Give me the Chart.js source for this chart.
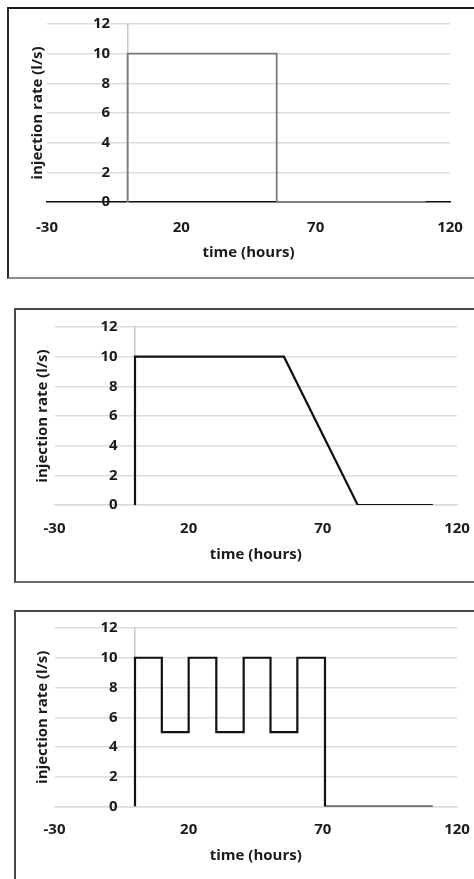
<!DOCTYPE html>
<html>
<head>
<meta charset="utf-8">
<script src="https://cdn.jsdelivr.net/npm/chart.js@4"></script>
<style>
  html, body { margin: 0; padding: 0; background: #fff; overflow: hidden; }
  body { width: 474px; height: 879px; position: relative; }
  .box { position: absolute; box-sizing: border-box; }
  canvas { position: absolute; left: 0; }
</style>
</head>
<body>
<div class="box" style="left:7px; top:7px; width:480px; height:272px; border-top:2px solid #1a1a1a; border-left:2px solid #2a2a2a; border-bottom:2px solid #8a8a8a;"></div>
<div class="box" style="left:14px; top:308px; width:480px; height:275px; border-top:2px solid #4a4a4a; border-left:2px solid #4a4a4a; border-bottom:2px solid #6a6a6a;"></div>
<div class="box" style="left:14px; top:610px; width:480px; height:300px; border-top:2px solid #4a4a4a; border-left:2px solid #4a4a4a;"></div>

<canvas id="chart1" width="474" height="290" style="top:0px"></canvas>
<canvas id="chart2" width="474" height="300" style="top:295px"></canvas>
<canvas id="chart3" width="474" height="279" style="top:600px"></canvas>

<script>
// constant injection, then stop
const time1 = [0, 0, 55.5, 55.5, 111];
const rate1 = [0, 10, 10, 0, 0];

// constant injection, then linear ramp down
const time2 = [0, 0, 55.5, 83, 111];
const rate2 = [0, 10, 10, 0, 0];

// cyclic injection 10 / 5 l/s, then stop
const time3 = [0, 0, 10, 10, 20, 20, 30.3, 30.3, 40.5, 40.5, 50.5, 50.5, 60.5, 60.5, 70.8, 70.8, 111];
const rate3 = [0, 10, 10, 5, 5, 10, 10, 5, 5, 10, 10, 5, 5, 10, 10, 0, 0];

const xTicks = [-30, 20, 70, 120];
const yTicks = [0, 2, 4, 6, 8, 10, 12];

const xTitle = 'time (hours)';
const yTitle = 'injection rate (l/s)';

const font = { family: 'Open Sans', weight: 'bold', size: 15 };
const gridColor = '#dcdcdc';

function makePanel(id, times, rates, o) {
  const ctx = document.getElementById(id).getContext('2d');
  return new Chart(ctx, {
    type: 'scatter',
    data: {
      datasets: [{
        data: times.map((t, i) => ({ x: t, y: rates[i] })),
        showLine: true,
        borderColor: o.lineColor,
        borderWidth: o.lineWidth,
        pointRadius: 0,
        tension: 0
      }]
    },
    options: {
      responsive: false,
      animation: false,
      layout: { padding: o.padding },
      plugins: { legend: { display: false }, tooltip: { enabled: false } },
      scales: {
        x: {
          type: 'linear',
          position: 'bottom',
          min: xTicks[0],
          max: xTicks[xTicks.length - 1],
          afterBuildTicks: s => { s.ticks = xTicks.map(v => ({ value: v })); },
          afterFit: s => {
            s.height = o.xHeight;
            s.paddingLeft = 14;
            s.paddingRight = 14;
          },
          grid: { display: false, drawTicks: false },
          border: { display: true, color: o.axisColor, width: o.axisWidth },
          ticks: { color: '#1b1b1b', font: font, padding: o.xPad, maxRotation: 0 },
          title: { display: true, text: xTitle, color: '#1b1b1b', font: font, padding: 0 }
        },
        y: {
          type: 'linear',
          position: 'left',
          min: 0,
          max: 12,
          afterBuildTicks: s => { s.ticks = yTicks.map(v => ({ value: v })); },
          afterFit: s => {
            s.width = o.yWidth;
            s.paddingTop = 9;
            s.paddingBottom = 9;
          },
          grid: { color: gridColor, lineWidth: 1.5, drawTicks: false },
          border: { display: false },
          ticks: { color: '#1b1b1b', font: font, mirror: true, crossAlign: 'far', padding: o.yPad },
          title: { display: true, text: yTitle, color: '#1b1b1b', font: font, padding: 0 }
        },
        // the vertical axis line at time 0
        y0: {
          type: 'linear',
          position: { x: 0 },
          min: 0,
          max: 12,
          grid: { color: 'rgba(0,0,0,0)', drawTicks: false },
          border: { display: true, color: '#c8c8c8', width: 1.5 },
          ticks: { display: false }
        }
      }
    }
  });
}

makePanel('chart1', time1, rate1, {
  padding: { left: 29, right: 24, top: 24, bottom: 28 },
  yWidth: 18, yPad: 46, xHeight: 60, xPad: 17,
  lineColor: '#7a7a7a', lineWidth: 1.8, axisColor: '#111', axisWidth: 1.5
});

makePanel('chart2', time2, rate2, {
  padding: { left: 34, right: 17, top: 32, bottom: 31 },
  yWidth: 20.5, yPad: 46, xHeight: 59, xPad: 14.6,
  lineColor: '#111', lineWidth: 2.2, axisColor: gridColor, axisWidth: 1.5
});

makePanel('chart3', time3, rate3, {
  padding: { left: 34, right: 17, top: 28, bottom: 14 },
  yWidth: 20.5, yPad: 46, xHeight: 58.5, xPad: 14.7,
  lineColor: '#111', lineWidth: 2.2, axisColor: gridColor, axisWidth: 1.5
});
</script>
</body>
</html>
